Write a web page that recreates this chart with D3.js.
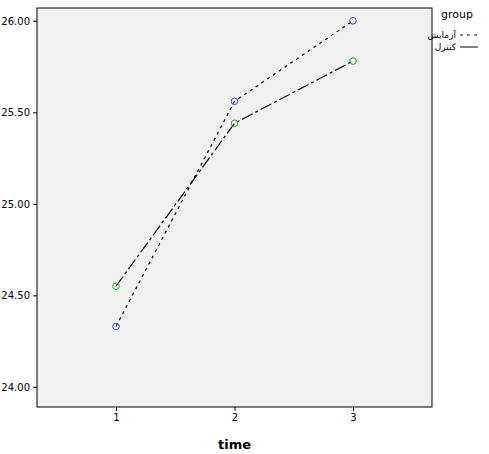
<!DOCTYPE html>
<html><head><meta charset="utf-8">
<script src="https://cdn.jsdelivr.net/npm/d3@7"></script>
<style>body{margin:0;background:#fff;font-family:"DejaVu Sans",sans-serif;}</style>
</head><body><svg id="chart" width="489" height="454"></svg>
<script>
var times = [1, 2, 3];
var groups = ['آزمایش', 'کنترل'];
var test_values = [24.33, 25.56, 26.00];
var control_values = [24.55, 25.44, 25.78];
var y_ticks = [24.0, 24.5, 25.0, 25.5, 26.0];

draw_chart();

function draw_chart(){
    var padding = {top: 8, left: 37, right: 57, bottom: 47};
    var svg = d3.select('#chart');
    var w = 489, h = 454;

    var x_scale = d3.scaleLinear().domain([1/3, 3 + 2/3]).range([padding.left, w - padding.right]);
    var y_scale = d3.scaleLinear().domain([23.89, 26.07]).range([h - padding.bottom, padding.top]);

    svg.append('rect')
        .attr('x', padding.left).attr('y', padding.top)
        .attr('width', w - padding.left - padding.right)
        .attr('height', h - padding.top - padding.bottom)
        .attr('fill', '#f0f0f0').attr('stroke', '#000');

    var x_axis = svg.append('g').attr('transform', 'translate(0,' + (h - padding.bottom) + ')')
        .call(d3.axisBottom(x_scale).tickValues(times).tickFormat(d3.format('d')).tickSize(4));
    var y_axis = svg.append('g').attr('transform', 'translate(' + padding.left + ',0)')
        .call(d3.axisLeft(y_scale).tickValues(y_ticks).tickFormat(d3.format('.2f')).tickSize(4));
    [x_axis, y_axis].forEach(function(a){
        a.select('.domain').remove();
        a.selectAll('text').attr('font-size', 10).attr('font-family', 'DejaVu Sans');
    });

    svg.append('text').attr('x', x_scale(2)).attr('y', 449).attr('text-anchor', 'middle')
        .attr('font-size', 13).attr('font-weight', 'bold').text('time');

    var line = d3.line().x(function(d, i){ return x_scale(times[i]); }).y(function(d){ return y_scale(d); });
    var series = [
        {name: groups[0], values: test_values, dash: '3,4', color: '#3a4fa8'},
        {name: groups[1], values: control_values, dash: '12,3,3,3', color: '#2aa82a'}
    ];
    series.forEach(function(s){
        svg.append('path').datum(s.values).attr('d', line).attr('fill', 'none')
            .attr('stroke', '#000').attr('stroke-width', 1.2).attr('stroke-dasharray', s.dash);
        svg.selectAll(null).data(s.values).enter().append('circle')
            .attr('cx', function(d, i){ return x_scale(times[i]); })
            .attr('cy', function(d){ return y_scale(d); })
            .attr('r', 3.3).attr('fill', 'none').attr('stroke', s.color);
    });

    svg.append('text').attr('x', 441).attr('y', 18).attr('font-size', 11).text('group');
    series.forEach(function(s, i){
        var y = 35 + i * 12;
        svg.append('text').attr('x', 456).attr('y', y + 3).attr('text-anchor', 'end')
            .attr('font-size', 9).text(s.name);
        svg.append('line').attr('x1', 460).attr('x2', 478).attr('y1', y).attr('y2', y)
            .attr('stroke', '#000').attr('stroke-dasharray', i == 0 ? '3,4' : null);
    });
}
</script></body></html>
